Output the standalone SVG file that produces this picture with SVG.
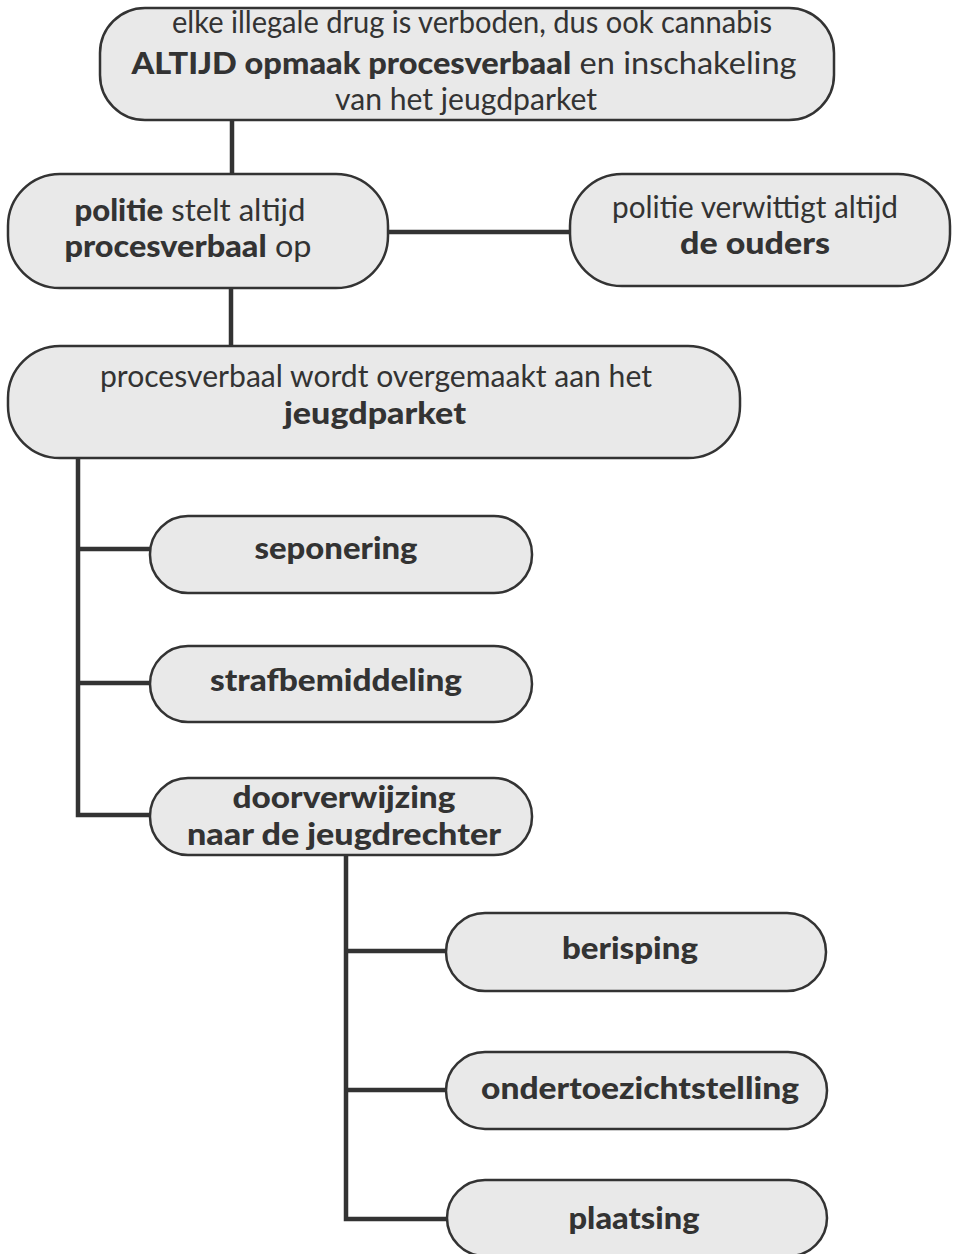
<svg xmlns="http://www.w3.org/2000/svg" width="954" height="1254" viewBox="0 0 954 1254">
<style>
.box{fill:#e9e9e9;stroke:#333;stroke-width:2.5}
.t{font-family:Lato,"Open Sans",sans-serif;font-size:30px;fill:#333;text-anchor:middle}
.b{font-weight:900}
.c{stroke:#333;stroke-width:4.5;fill:none}
</style>
<rect width="954" height="1254" fill="#fff"/>
<g id="connectors">
<line class="c" x1="232" y1="120" x2="232" y2="174"/>
<line class="c" x1="388" y1="232" x2="570" y2="232"/>
<line class="c" x1="231" y1="288" x2="231" y2="346"/>
<polyline class="c" points="78,458 78,815 150,815"/>
<line class="c" x1="78" y1="549" x2="150" y2="549"/>
<line class="c" x1="78" y1="683" x2="150" y2="683"/>
<polyline class="c" points="346,855 346,1219 447,1219"/>
<line class="c" x1="346" y1="951" x2="446" y2="951"/>
<line class="c" x1="346" y1="1090" x2="446" y2="1090"/>
</g>
<g id="n1">
<rect class="box" x="100" y="8" width="734" height="112" rx="45"/>
<text class="t" x="472" y="33" textLength="600" lengthAdjust="spacingAndGlyphs">elke illegale drug is verboden, dus ook cannabis</text>
<text class="t" x="464" y="74" textLength="665" lengthAdjust="spacingAndGlyphs"><tspan class="b">ALTIJD opmaak procesverbaal</tspan> en inschakeling</text>
<text class="t" x="466" y="110" textLength="262" lengthAdjust="spacingAndGlyphs">van het jeugdparket</text>
</g>
<g id="n2">
<rect class="box" x="8" y="174" width="380" height="114" rx="52"/>
<text class="t" x="190" y="221" textLength="231" lengthAdjust="spacingAndGlyphs"><tspan class="b">politie</tspan> stelt altijd</text>
<text class="t" x="188" y="257" textLength="247" lengthAdjust="spacingAndGlyphs"><tspan class="b">procesverbaal</tspan> op</text>
</g>
<g id="n3">
<rect class="box" x="570" y="174" width="380" height="112" rx="52"/>
<text class="t" x="755" y="218" textLength="286" lengthAdjust="spacingAndGlyphs">politie verwittigt altijd</text>
<text class="t b" x="755" y="254" textLength="150" lengthAdjust="spacingAndGlyphs">de ouders</text>
</g>
<g id="n4">
<rect class="box" x="8" y="346" width="732" height="112" rx="52"/>
<text class="t" x="376" y="387" textLength="552" lengthAdjust="spacingAndGlyphs">procesverbaal wordt overgemaakt aan het</text>
<text class="t b" x="375" y="424" textLength="182" lengthAdjust="spacingAndGlyphs">jeugdparket</text>
</g>
<g id="n5">
<rect class="box" x="150" y="516" width="382" height="77" rx="38"/>
<text class="t b" x="336" y="559" textLength="163" lengthAdjust="spacingAndGlyphs">seponering</text>
</g>
<g id="n6">
<rect class="box" x="150" y="646" width="382" height="76" rx="38"/>
<text class="t b" x="336" y="691" textLength="252" lengthAdjust="spacingAndGlyphs">strafbemiddeling</text>
</g>
<g id="n7">
<rect class="box" x="150" y="778" width="382" height="77" rx="38"/>
<text class="t b" x="344" y="808" textLength="223" lengthAdjust="spacingAndGlyphs">doorverwijzing</text>
<text class="t b" x="344" y="845" textLength="314" lengthAdjust="spacingAndGlyphs">naar de jeugdrechter</text>
</g>
<g id="n8">
<rect class="box" x="446" y="913" width="380" height="78" rx="39"/>
<text class="t b" x="630" y="959" textLength="136" lengthAdjust="spacingAndGlyphs">berisping</text>
</g>
<g id="n9">
<rect class="box" x="446" y="1052" width="381" height="77" rx="39"/>
<text class="t b" x="640" y="1099" textLength="318" lengthAdjust="spacingAndGlyphs">ondertoezichtstelling</text>
</g>
<g id="n10">
<rect class="box" x="447" y="1180" width="380" height="76" rx="38"/>
<text class="t b" x="634" y="1229" textLength="131" lengthAdjust="spacingAndGlyphs">plaatsing</text>
</g>
</svg>
